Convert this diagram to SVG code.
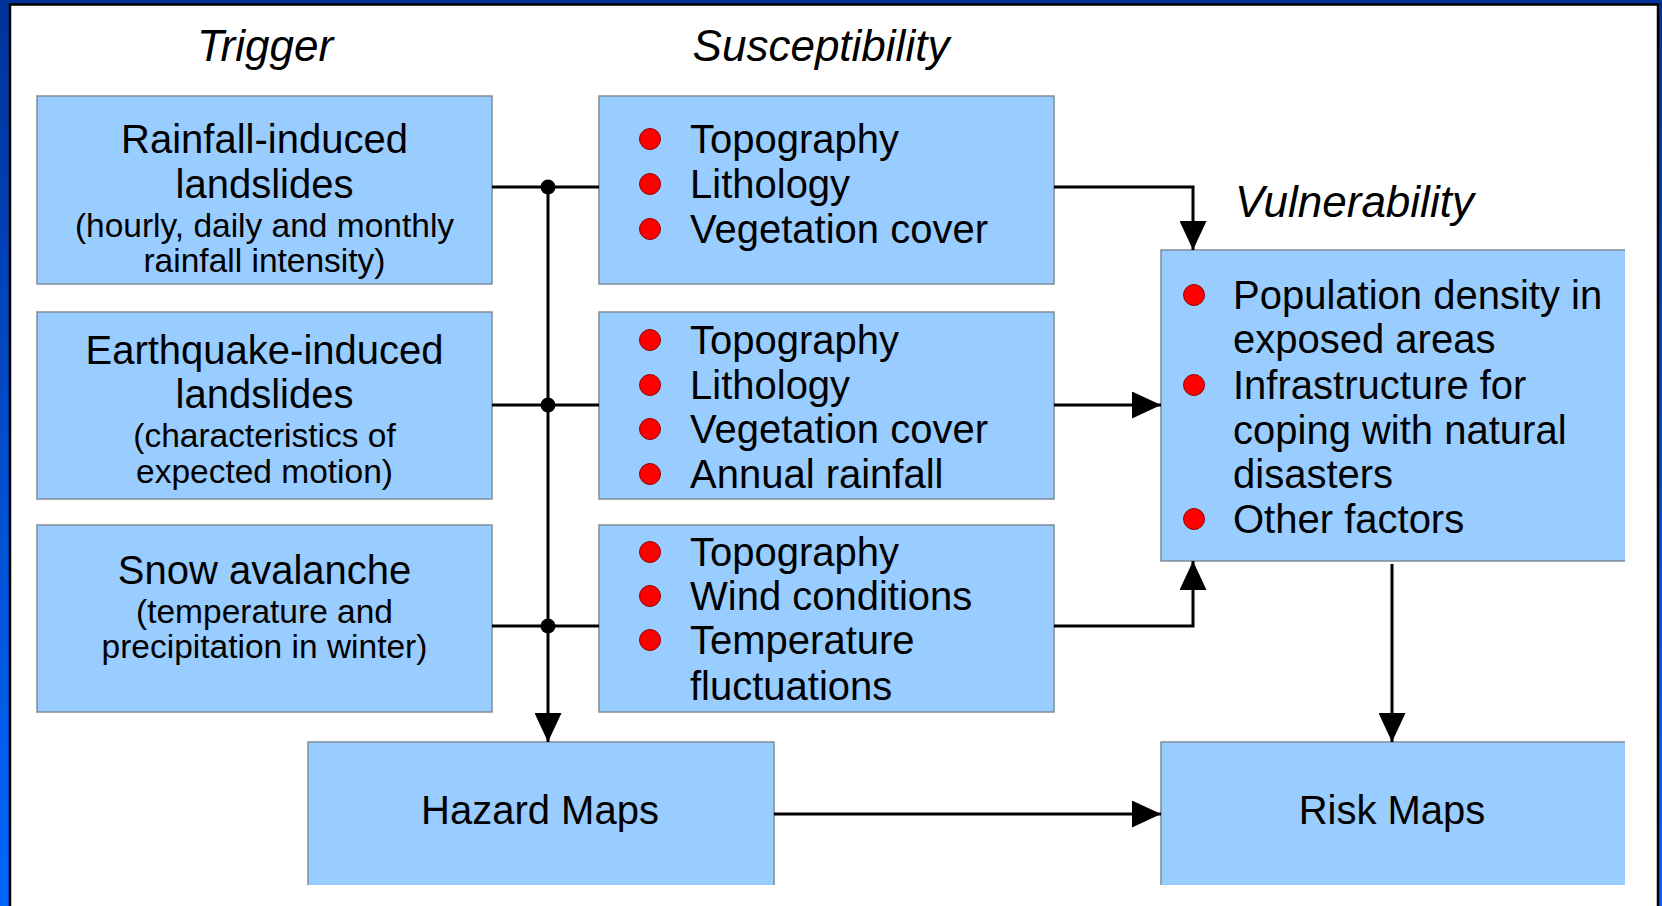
<svg xmlns="http://www.w3.org/2000/svg" width="1662" height="906" viewBox="0 0 1662 906">
<defs>
<linearGradient id="frameGrad" x1="0" y1="0" x2="0" y2="1">
<stop offset="0" stop-color="#003399"/>
<stop offset="1" stop-color="#0066ff"/>
</linearGradient>
<marker id="arrow" markerUnits="userSpaceOnUse" markerWidth="29" markerHeight="27" refX="29" refY="13.5" orient="auto">
<path d="M0,0 L29,13.5 L0,27 z" fill="#000"/>
</marker>
<style>
.box{fill:#99ccff;stroke:#7f8c99;stroke-width:1.5}
.fill{fill:#99ccff;stroke:none}
.edge{fill:none;stroke:#7f8c99;stroke-width:1.5}
.t{font-family:"Liberation Sans",Arial,sans-serif;fill:#000}
.main{font-size:40px}
.sub{font-size:33.5px}
.title{font-size:44px;font-style:italic}
.c{text-anchor:middle}
.bul{fill:#ff0000;stroke:#900000;stroke-width:1}
.conn{fill:none;stroke:#000;stroke-width:3}
.dot{fill:#000}
</style>
</defs>
<rect x="0" y="0" width="1662" height="906" fill="url(#frameGrad)"/>
<rect x="10" y="4.5" width="1648" height="905" fill="#fff" stroke="#000" stroke-width="2.5"/>

<g id="titles">
<text class="t title c" x="265" y="61">Trigger</text>
<text class="t title c" x="821" y="61">Susceptibility</text>
<text class="t title" x="1235" y="217">Vulnerability</text>
</g>

<g id="trigger-rainfall">
<rect class="box" x="37" y="96" width="455" height="188"/>
<text class="t main c" x="264.5" y="153">Rainfall-induced</text>
<text class="t main c" x="264.5" y="198">landslides</text>
<text class="t sub c" x="264.5" y="237">(hourly, daily and monthly</text>
<text class="t sub c" x="264.5" y="272">rainfall intensity)</text>
</g>

<g id="trigger-earthquake">
<rect class="box" x="37" y="312" width="455" height="187"/>
<text class="t main c" x="264.5" y="364">Earthquake-induced</text>
<text class="t main c" x="264.5" y="408">landslides</text>
<text class="t sub c" x="264.5" y="447">(characteristics of</text>
<text class="t sub c" x="264.5" y="483">expected motion)</text>
</g>

<g id="trigger-snow">
<rect class="box" x="37" y="525" width="455" height="187"/>
<text class="t main c" x="264.5" y="584">Snow avalanche</text>
<text class="t sub c" x="264.5" y="623">(temperature and</text>
<text class="t sub c" x="264.5" y="658">precipitation in winter)</text>
</g>

<g id="susc-rainfall">
<rect class="box" x="599" y="96" width="455" height="188"/>
<circle class="bul" cx="650" cy="139" r="10.5"/>
<circle class="bul" cx="650" cy="184" r="10.5"/>
<circle class="bul" cx="650" cy="229" r="10.5"/>
<text class="t main" x="690" y="153">Topography</text>
<text class="t main" x="690" y="198">Lithology</text>
<text class="t main" x="690" y="243">Vegetation cover</text>
</g>

<g id="susc-earthquake">
<rect class="box" x="599" y="312" width="455" height="187"/>
<circle class="bul" cx="650" cy="340" r="10.5"/>
<circle class="bul" cx="650" cy="385" r="10.5"/>
<circle class="bul" cx="650" cy="429" r="10.5"/>
<circle class="bul" cx="650" cy="474" r="10.5"/>
<text class="t main" x="690" y="354">Topography</text>
<text class="t main" x="690" y="399">Lithology</text>
<text class="t main" x="690" y="443">Vegetation cover</text>
<text class="t main" x="690" y="488">Annual rainfall</text>
</g>

<g id="susc-snow">
<rect class="box" x="599" y="525" width="455" height="187"/>
<circle class="bul" cx="650" cy="552" r="10.5"/>
<circle class="bul" cx="650" cy="596" r="10.5"/>
<circle class="bul" cx="650" cy="640" r="10.5"/>
<text class="t main" x="690" y="566">Topography</text>
<text class="t main" x="690" y="610">Wind conditions</text>
<text class="t main" x="690" y="654">Temperature</text>
<text class="t main" x="690" y="700">fluctuations</text>
</g>

<g id="vulnerability">
<rect class="fill" x="1161" y="250" width="464" height="311"/>
<path class="edge" d="M1625,250 H1161 V561 H1625"/>
<circle class="bul" cx="1194" cy="295" r="10.5"/>
<circle class="bul" cx="1194" cy="385" r="10.5"/>
<circle class="bul" cx="1194" cy="519" r="10.5"/>
<text class="t main" x="1233" y="309">Population density in</text>
<text class="t main" x="1233" y="353">exposed areas</text>
<text class="t main" x="1233" y="399">Infrastructure for</text>
<text class="t main" x="1233" y="444">coping with natural</text>
<text class="t main" x="1233" y="488">disasters</text>
<text class="t main" x="1233" y="533">Other factors</text>
</g>

<g id="hazard-maps">
<rect class="fill" x="308" y="742" width="466" height="143"/>
<path class="edge" d="M308,885 V742 H774 V885"/>
<text class="t main c" x="540" y="824">Hazard Maps</text>
</g>

<g id="risk-maps">
<rect class="fill" x="1161" y="742" width="464" height="143"/>
<path class="edge" d="M1161,885 V742 H1625"/>
<text class="t main c" x="1392" y="824">Risk Maps</text>
</g>

<g id="connectors">
<path class="conn" d="M492,187 H599"/>
<path class="conn" d="M492,405 H599"/>
<path class="conn" d="M492,626 H599"/>
<path class="conn" d="M548,187 V742" marker-end="url(#arrow)"/>
<circle class="dot" cx="548" cy="187" r="7.5"/>
<circle class="dot" cx="548" cy="405" r="7.5"/>
<circle class="dot" cx="548" cy="626" r="7.5"/>
<path class="conn" d="M1054,187 H1193 V250" marker-end="url(#arrow)"/>
<path class="conn" d="M1054,405 H1161" marker-end="url(#arrow)"/>
<path class="conn" d="M1054,626 H1193 V561" marker-end="url(#arrow)"/>
<path class="conn" d="M1392,564 V742" marker-end="url(#arrow)"/>
<path class="conn" d="M774,814 H1161" marker-end="url(#arrow)"/>
</g>
</svg>
